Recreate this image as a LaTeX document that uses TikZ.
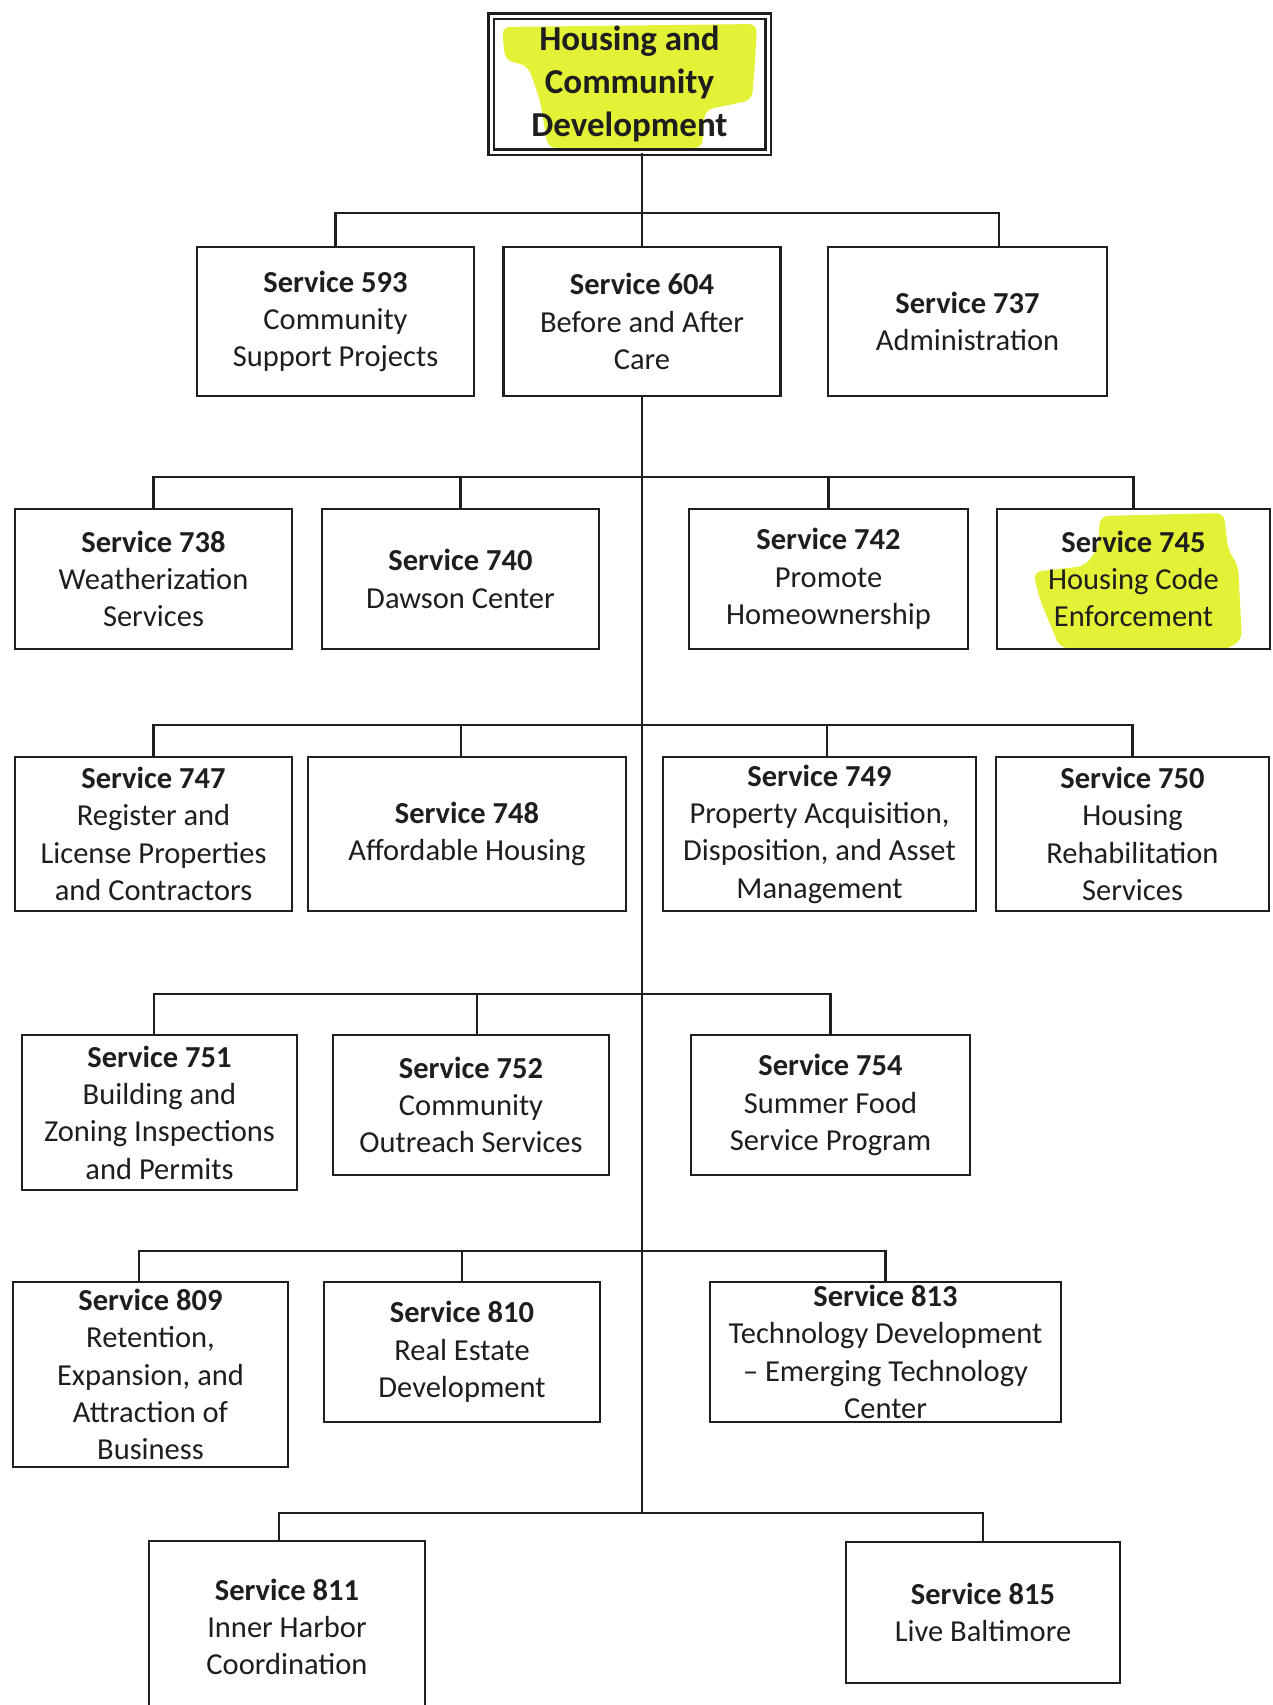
\documentclass[tikz,border=0pt]{standalone}
\usepackage{fontspec}
\setmainfont{Carlito}
\usetikzlibrary{calc}
\definecolor{marker}{RGB}{228,242,55}
\definecolor{ink}{RGB}{30,30,30}

\begin{document}
\begin{tikzpicture}[
  x=1pt, y=-1pt,
  svc/.style={draw=ink, text=ink, line width=2.6pt, align=center, inner sep=0pt,
    font=\fontsize{30.5}{37.3}\selectfont},
  head/.style={svc, double, double distance=3pt, line width=2.4pt,
    font=\fontsize{35}{43}\selectfont\bfseries},
  link/.style={draw=ink, line width=2.2pt},
  highlight/.style={fill=marker, rounded corners=8pt}
  ]
  \useasboundingbox[fill=white] (0,0) rectangle (1272,1705);
  % marker strokes
  \path[highlight] (502,27) -- (757,24) -- (755,62) -- (752,100) -- (705,110) -- (702,148)
    -- (548,148) -- (540,100) -- (528,66) -- (505,60) -- cycle;
  \path[highlight] (1100,516) -- (1224,513) -- (1228,550) -- (1238,565) -- (1242,640)
    -- (1225,650) -- (1060,648) -- (1040,600) -- (1033,572) -- (1085,566) -- (1098,548) -- cycle;

  \node[head, minimum width=277, minimum height=136] (hcd) at (629.5,84) {Housing and\\Community\\Development};

  \node[svc, minimum width=277, minimum height=149] (s593) at (335.5,321.5) {\textbf{Service 593}\\Community\\Support Projects};
  \node[svc, minimum width=277, minimum height=149] (s604) at (642,321.5) {\textbf{Service 604}\\Before and After\\Care};
  \node[svc, minimum width=279, minimum height=149] (s737) at (967.5,321.5) {\textbf{Service 737}\\Administration};

  \node[svc, minimum width=277, minimum height=140] (s738) at (153.5,579) {\textbf{Service 738}\\Weatherization\\Services};
  \node[svc, minimum width=277, minimum height=140] (s740) at (460.5,579) {\textbf{Service 740}\\Dawson Center};
  \node[svc, minimum width=279, minimum height=140] (s742) at (828.5,579) {\textbf{Service 742}\\Promote\\Homeownership};
  \node[svc, minimum width=273, minimum height=140] (s745) at (1133.5,579) {\textbf{Service 745}\\Housing Code\\Enforcement};

  \node[svc, minimum width=277, minimum height=154] (s747) at (153.5,834) {\textbf{Service 747}\\Register and\\License Properties\\and Contractors};
  \node[svc, minimum width=318, minimum height=154] (s748) at (467,834) {\textbf{Service 748}\\Affordable Housing};
  \node[svc, minimum width=313, minimum height=154] (s749) at (819.5,834) {\textbf{Service 749}\\Property Acquisition,\\Disposition, and Asset\\Management};
  \node[svc, minimum width=273, minimum height=154] (s750) at (1132.5,834) {\textbf{Service 750}\\Housing\\Rehabilitation\\Services};

  \node[svc, minimum width=275, minimum height=155] (s751) at (159.5,1112.5) {\textbf{Service 751}\\Building and\\Zoning Inspections\\and Permits};
  \node[svc, minimum width=276, minimum height=140] (s752) at (471,1105) {\textbf{Service 752}\\Community\\Outreach Services};
  \node[svc, minimum width=279, minimum height=140] (s754) at (830.5,1105) {\textbf{Service 754}\\Summer Food\\Service Program};

  \node[svc, minimum width=275, minimum height=185] (s809) at (150.5,1374.5) {\textbf{Service 809}\\Retention,\\Expansion, and\\Attraction of\\Business};
  \node[svc, minimum width=276, minimum height=140] (s810) at (462,1352) {\textbf{Service 810}\\Real Estate\\Development};
  \node[svc, minimum width=351, minimum height=140] (s813) at (885.5,1352) {\textbf{Service 813}\\Technology Development\\-- Emerging Technology\\Center};

  \node[svc, minimum width=276, minimum height=172] (s811) at (287,1627) {\textbf{Service 811}\\Inner Harbor\\Coordination};
  \node[svc, minimum width=274, minimum height=141] (s815) at (983,1612.5) {\textbf{Service 815}\\Live Baltimore};

  \coordinate (bus1) at (642,213);
  \coordinate (bus2) at (642,477);
  \coordinate (bus3) at (642,725);
  \coordinate (bus4) at (642,994);
  \coordinate (bus5) at (642,1251);
  \coordinate (bus6) at (642,1513);

  \draw[link] (hcd.south -| s604.north) -- (s604.north);
  \draw[link] (s593.north) |- (bus1);
  \draw[link] ([xshift=31.5pt]s737.north) |- (bus1);
  \draw[link] (s604.south) -- (bus6);

  \draw[link] (s738.north) |- (bus2);
  \draw[link] (s740.north) |- (bus2);
  \draw[link] (s742.north) |- (bus2);
  \draw[link] (s745.north) |- (bus2);

  \draw[link] (s747.north) |- (bus3);
  \draw[link] ([xshift=-6pt]s748.north) |- (bus3);
  \draw[link] ([xshift=7.5pt]s749.north) |- (bus3);
  \draw[link] (s750.north) |- (bus3);

  \draw[link] ([xshift=-5.5pt]s751.north) |- (bus4);
  \draw[link] ([xshift=6pt]s752.north) |- (bus4);
  \draw[link] (s754.north) |- (bus4);

  \draw[link] ([xshift=-11.5pt]s809.north) |- (bus5);
  \draw[link] (s810.north) |- (bus5);
  \draw[link] (s813.north) |- (bus5);

  \draw[link] ([xshift=-8pt]s811.north) |- (bus6);
  \draw[link] (s815.north) |- (bus6);
\end{tikzpicture}
\end{document}
